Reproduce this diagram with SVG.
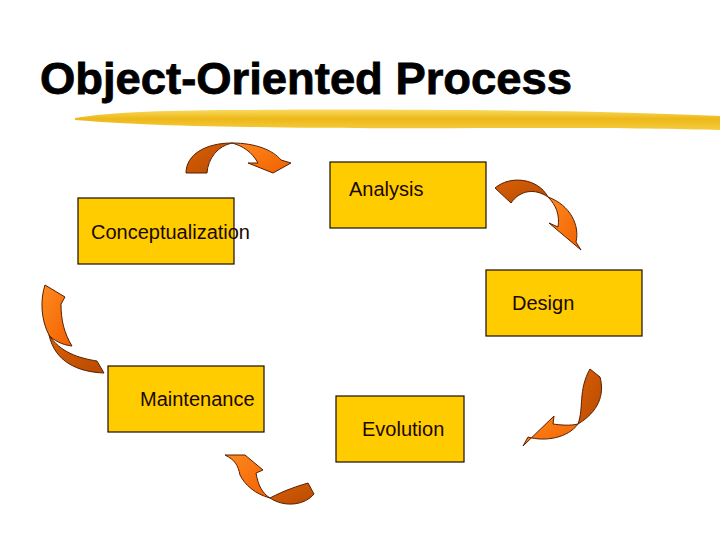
<svg xmlns="http://www.w3.org/2000/svg" width="720" height="540" viewBox="0 0 720 540">
<defs>
<linearGradient id="brush" x1="0" y1="0" x2="0" y2="1">
<stop offset="0" stop-color="#F8DA60"/>
<stop offset="0.45" stop-color="#EDB818"/>
<stop offset="1" stop-color="#F4CC40"/>
</linearGradient>
<linearGradient id="lightOr" x1="0" y1="0" x2="1" y2="1">
<stop offset="0" stop-color="#FF8A20"/>
<stop offset="1" stop-color="#F06000"/>
</linearGradient>
<linearGradient id="darkOr" x1="0" y1="0" x2="1" y2="1">
<stop offset="0" stop-color="#D86008"/>
<stop offset="1" stop-color="#B84A00"/>
</linearGradient>
</defs>
<style>
.box{fill:#FFCC00;stroke:#1a0a00;stroke-width:1.2}
.lbl{font-family:"Liberation Sans",Arial,sans-serif;font-size:20px;fill:#1a0800}
.title{font-family:"Liberation Sans",Arial,sans-serif;font-size:44px;font-weight:bold;fill:#000;stroke:#000;stroke-width:0.8}
.lt{fill:url(#lightOr);stroke:#5a1e00;stroke-width:1}
.dk{fill:url(#darkOr);stroke:#5a1e00;stroke-width:1}
</style>
<rect width="720" height="540" fill="#fff"/>
<g id="title">
<text class="title" x="40" y="94" textLength="532" lengthAdjust="spacingAndGlyphs">Object-Oriented Process</text>
<path d="M75,118 C110,112 170,110 250,110 C350,109 500,110 600,112 C650,113 690,115 720,116 L720,130 C680,129 620,128 560,128 C450,128 330,129 250,127 C170,126 110,123 75,120 Z" fill="url(#brush)"/>
</g>
<g id="analysis">
<rect class="box" x="330" y="162" width="156" height="66"/>
<text class="lbl" x="349" y="196">Analysis</text>
</g>
<g id="conceptualization">
<rect class="box" x="78" y="198" width="156" height="66"/>
<text class="lbl" x="91" y="239">Conceptualization</text>
</g>
<g id="design">
<rect class="box" x="486" y="270" width="156" height="66"/>
<text class="lbl" x="512" y="310">Design</text>
</g>
<g id="maintenance">
<rect class="box" x="108" y="366" width="156" height="66"/>
<text class="lbl" x="140" y="406">Maintenance</text>
</g>
<g id="evolution">
<rect class="box" x="336" y="396" width="128" height="66"/>
<text class="lbl" x="362" y="436">Evolution</text>
</g>
<g id="connectors">
<path class="dk" d="M186,173 C186,155 205,143 232,143 C218,146 208,158 207,173 Z"/>
<path class="lt" d="M232,143 C255,143 273,150 281,160 L291,163 L273,173 L248,163 L258,163 C252,152 243,146 232,143 Z"/>
<path class="dk" d="M495,188 C510,175 538,178 548,197 C535,188 520,190 511,203 Z"/>
<path class="lt" d="M548,197 C570,205 580,225 576,242 L581,250 L549,223 L558,227 C560,215 556,205 548,197 Z"/>
<path class="lt" d="M45,285 L65,297 L61,304 C61,320 64,333 72,346 C62,345 53,340 49,335 C41,320 40,300 45,285 Z"/>
<path class="dk" d="M49,335 C60,352 78,358 97,361 L104,373 C78,372 55,362 49,335 Z"/>
<path class="dk" d="M590,369 L600,377 C605,395 598,412 578,424 C584,408 578,390 590,369 Z"/>
<path class="lt" d="M578,424 C570,426 560,425 553,424 L554,416 L523,446 L528,437 C545,442 568,438 578,424 Z"/>
<path class="lt" d="M225,455 L245,455 L263,470 L256,473 C258,485 262,493 270,498 C255,494 245,485 240,475 C238,465 235,460 225,455 Z"/>
<path class="dk" d="M270,498 C285,490 298,486 308,483 L314,494 C305,505 285,508 270,498 Z"/>
</g>
</svg>
